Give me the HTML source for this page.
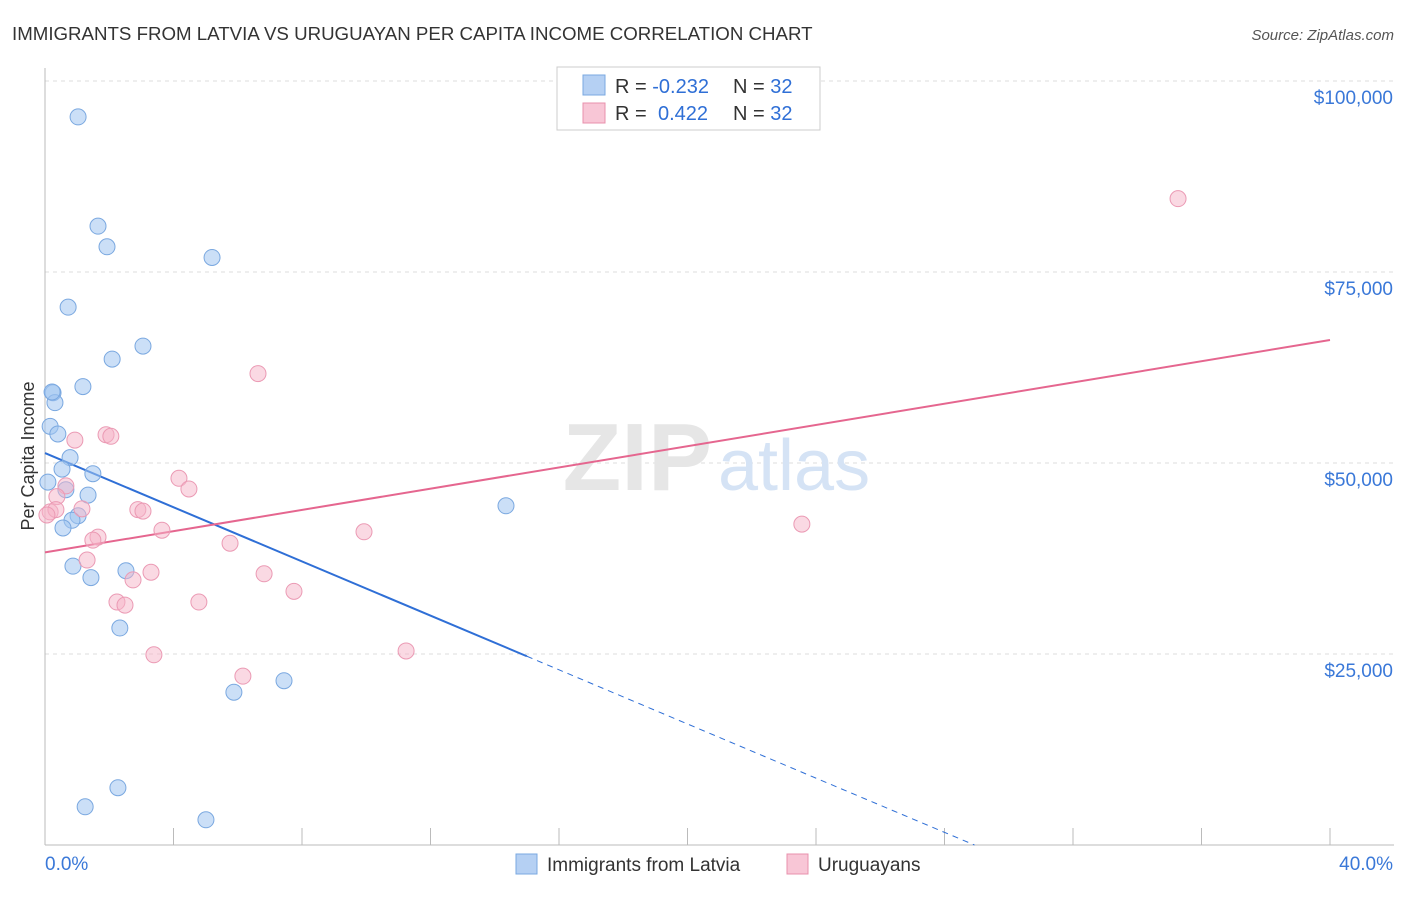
<!DOCTYPE html>
<html><head><meta charset="utf-8"><style>
body{margin:0;background:#fff;font-family:"Liberation Sans",sans-serif;}
svg text{font-family:"Liberation Sans",sans-serif;}
</style></head><body>
<svg width="1406" height="892" viewBox="0 0 1406 892">
<text x="12" y="40" font-size="18.7" fill="#333">IMMIGRANTS FROM LATVIA VS URUGUAYAN PER CAPITA INCOME CORRELATION CHART</text>
<text x="1394" y="40" font-size="15" fill="#555" text-anchor="end" font-style="italic">Source: ZipAtlas.com</text>
<g id="grid"></g>
<g id="axes"></g>
<text x="712" y="490" font-size="96" fill="#e6e6e6" font-family="Liberation Serif" font-weight="bold" text-anchor="end">ZIP</text>
<text x="718" y="490" font-size="72" fill="#d5e3f5">atlas</text>
<text transform="translate(34,456) rotate(-90)" font-size="18" fill="#333" text-anchor="middle">Per Capita Income</text>
<g id="lines"></g>
<g id="points"></g>
<g>
<rect x="557" y="67" width="263" height="63" fill="#fff" stroke="#ccc"/>
<rect x="583" y="75" width="22" height="20" fill="#b5d0f3" stroke="#7aa8e0"/>
<text x="615" y="93" font-size="20" fill="#333">R = <tspan fill="#2f6fd6">-0.232</tspan></text>
<text x="733" y="93" font-size="20" fill="#333">N = <tspan fill="#2f6fd6">32</tspan></text>
<rect x="583" y="103" width="22" height="20" fill="#f8c6d6" stroke="#e890ac"/>
<text x="615" y="120" font-size="20" fill="#333">R = </text>
<text x="658" y="120" font-size="20" fill="#2f6fd6">0.422</text>
<text x="733" y="120" font-size="20" fill="#333">N = <tspan fill="#2f6fd6">32</tspan></text>
</g>
<g>
<rect x="516" y="854" width="21" height="20" fill="#b5d0f3" stroke="#7aa8e0"/>
<text x="547" y="871" font-size="19" fill="#333">Immigrants from Latvia</text>
<rect x="787" y="854" width="21" height="20" fill="#f8c6d6" stroke="#e890ac"/>
<text x="818" y="871" font-size="19" fill="#333">Uruguayans</text>
</g>
</svg>
<script>
const blueX=[1.03,1.65,1.93,5.20,0.72,3.05,2.09,0.25,1.18,0.31,0.16,0.40,0.78,0.53,1.49,0.09,0.65,1.34,1.03,0.84,0.56,14.35,0.87,2.52,1.43,2.33,5.88,7.44,2.27,1.25,5.01,0.22];
const blueY=[95300,81000,78300,76900,70400,65300,63600,59200,60000,57900,54800,53800,50700,49200,48600,47500,46500,45800,43100,42500,41500,44400,36500,35900,35000,28400,20000,21500,7500,5000,3300,59300];
const pinkX=[35.27,6.63,1.90,2.05,0.93,4.17,4.48,0.65,0.37,1.15,2.89,3.05,0.16,0.34,3.64,9.93,23.56,1.65,1.49,5.76,1.31,3.30,6.82,2.74,7.75,2.24,2.49,4.79,3.39,11.24,6.16,0.06];
const pinkY=[84600,61700,53700,53500,53000,48000,46600,47000,45600,44000,43900,43700,43600,43900,41200,41000,42000,40300,39900,39500,37300,35700,35500,34700,33200,31800,31400,31800,24900,25400,22100,43200];
const yTicks=[25000,50000,75000,100000];
const yTickLabels=["$25,000","$50,000","$75,000","$100,000"];
const blueTrend=[51300,-1773];
const pinkTrend=[38300,695];
const blueSolidEnd=15.0;
const NS="http://www.w3.org/2000/svg";
const sx=v=>45+v/40*1285;
const sy=v=>845-v/25000*191;
function mk(tag,attrs,parent){const e=document.createElementNS(NS,tag);for(const k in attrs)e.setAttribute(k,attrs[k]);document.getElementById(parent).appendChild(e);return e;}
yTicks.forEach((t,i)=>{
 const l=mk('line',{x1:45,x2:1394,y1:sy(t),y2:sy(t),stroke:'#ddd','stroke-dasharray':'4,4'},'grid');
 
 
 const tx=mk('text',{x:1393,y:sy(t)+23,'font-size':19,fill:'#3a78d8','text-anchor':'end'},'grid');
 tx.textContent=yTickLabels[i];
 
 
});
const ax=mk('line',{x1:45,x2:45,y1:68,y2:845,stroke:'#bbb'},'axes');


const bx=mk('line',{x1:45,x2:1394,y1:845,y2:845,stroke:'#bbb'},'axes');


for(let i=0;i<=10;i++){const t=mk('line',{x1:sx(i*4),x2:sx(i*4),y1:828,y2:845,stroke:'#bbb'},'axes');
 
 }
const x0=mk('text',{x:45,y:870,'font-size':19,fill:'#3a78d8'},'axes');x0.textContent='0.0%';


const x1=mk('text',{x:1393,y:870,'font-size':19,fill:'#3a78d8','text-anchor':'end'},'axes');x1.textContent='40.0%';


const bz=-blueTrend[0]/blueTrend[1];
const bl=mk('line',{x1:sx(0),y1:sy(blueTrend[0]),x2:sx(blueSolidEnd),y2:sy(blueTrend[0]+blueTrend[1]*blueSolidEnd),stroke:'#2f6fd6','stroke-width':2},'lines');


const bd=mk('line',{x1:sx(blueSolidEnd),y1:sy(blueTrend[0]+blueTrend[1]*blueSolidEnd),x2:sx(bz),y2:sy(0),stroke:'#2f6fd6','stroke-width':1,'stroke-dasharray':'6,5'},'lines');


const pl=mk('line',{x1:sx(0),y1:sy(pinkTrend[0]),x2:sx(40),y2:sy(pinkTrend[0]+pinkTrend[1]*40),stroke:'#e5668f','stroke-width':2},'lines');


blueX.forEach((x,i)=>{const c=mk('circle',{cx:sx(x),cy:sy(blueY[i]),r:8,fill:'rgba(160,196,240,0.55)',stroke:'#7aa8e0','stroke-width':1},'points');
 
 });
pinkX.forEach((x,i)=>{const c=mk('circle',{cx:sx(x),cy:sy(pinkY[i]),r:8,fill:'rgba(245,180,200,0.5)',stroke:'#eb9ab4','stroke-width':1},'points');
 
 });
</script>
</body></html>
